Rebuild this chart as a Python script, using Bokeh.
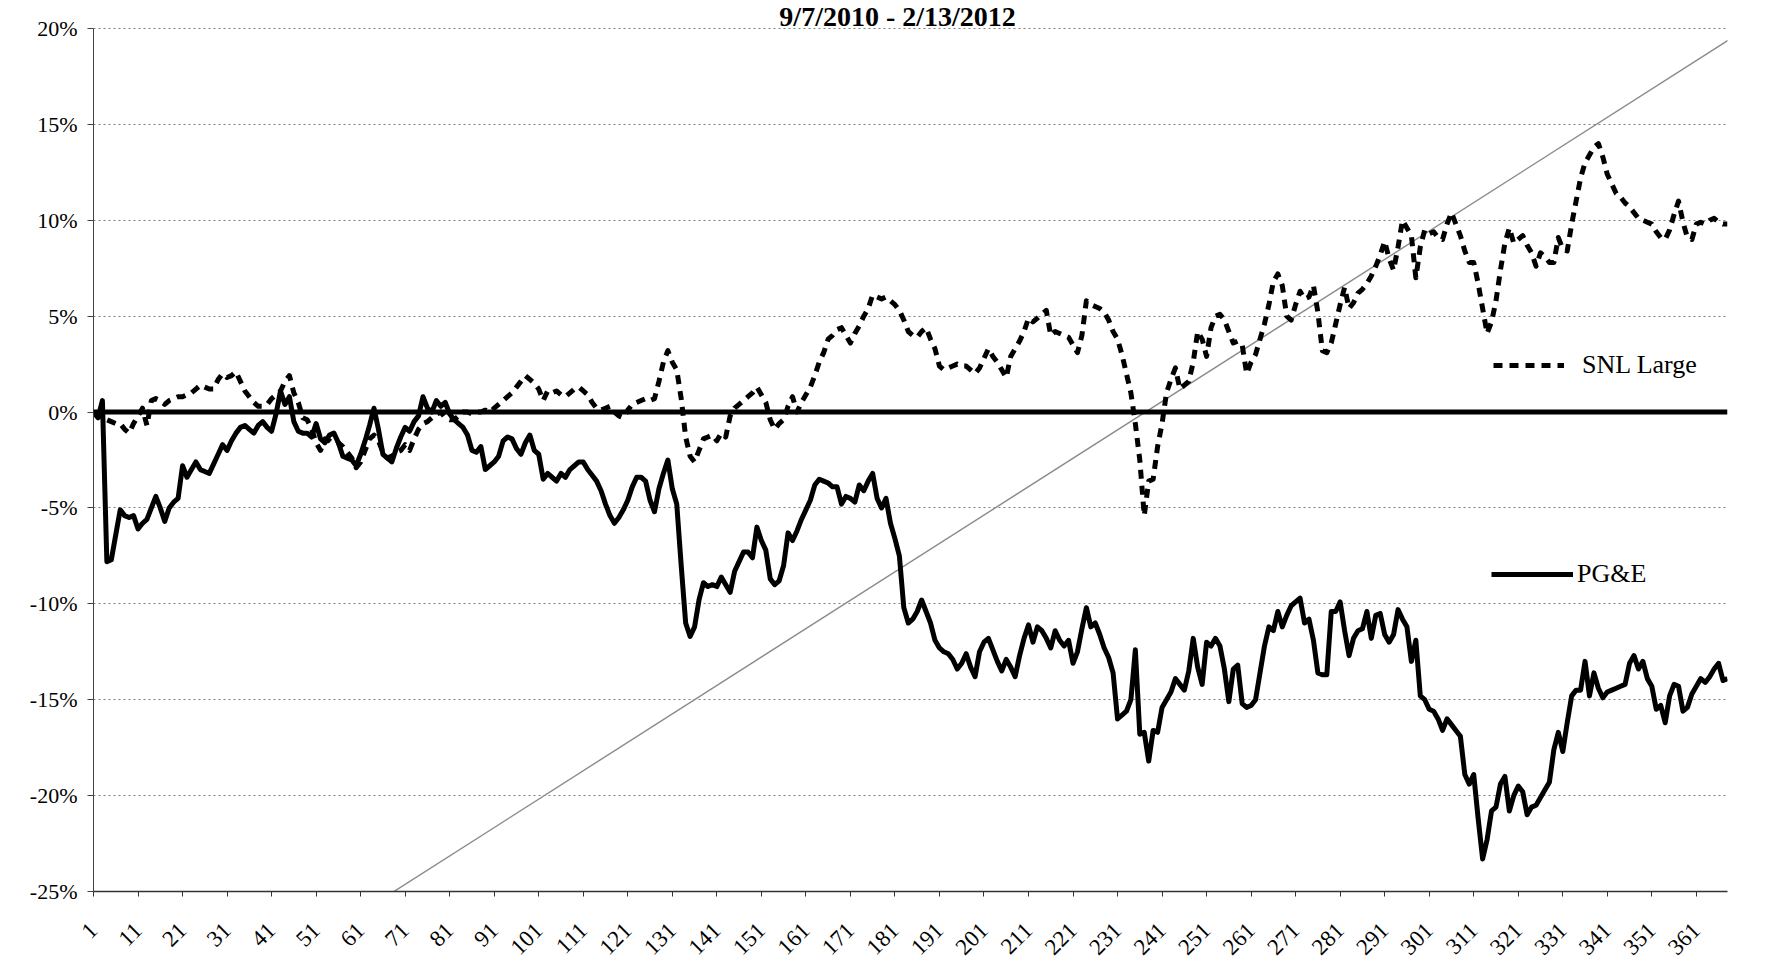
import math
from bokeh.plotting import figure
from bokeh.models import (Range1d, FixedTicker, PrintfTickFormatter, Span,
                          Legend, LegendItem, Label)
from bokeh.embed import file_html
from bokeh.resources import INLINE

# ---------------- data ----------------
title_text = "9/7/2010 - 2/13/2012"
series_names = ["SNL Large", "PG&E"]

day = list(range(1, 369))

pge = [
    0.0, -0.3, 0.6, -7.8, -7.7, -6.4, -5.1, -5.4, -5.5, -5.4,
    -6.1, -5.8, -5.6, -5.0, -4.4, -5.0, -5.7, -5.0, -4.7, -4.5,
    -2.8, -3.4, -3.0, -2.6, -3.0, -3.1, -3.2, -2.7, -2.2, -1.7,
    -2.0, -1.5, -1.1, -0.8, -0.7, -0.9, -1.1, -0.7, -0.5, -0.8,
    -1.0, -0.1, 1.1, 0.4, 0.8, -0.5, -1.0, -1.1, -1.1, -1.3,
    -0.6, -1.4, -1.6, -1.2, -1.1, -1.6, -2.3, -2.4, -2.5, -2.8,
    -2.2, -1.5, -0.7, 0.2, -0.9, -2.2, -2.4, -2.6, -1.9, -1.3,
    -0.8, -1.0, -0.5, -0.2, 0.8, 0.2, 0.0, 0.6, 0.3, 0.5,
    -0.1, -0.4, -0.6, -0.8, -1.2, -2.0, -2.1, -1.8, -3.0, -2.8,
    -2.6, -2.3, -1.5, -1.3, -1.4, -1.9, -2.2, -1.6, -1.2, -2.0,
    -2.2, -3.5, -3.2, -3.4, -3.6, -3.2, -3.4, -3.0, -2.8, -2.6,
    -2.6, -3.0, -3.3, -3.6, -4.1, -4.8, -5.4, -5.8, -5.5, -5.1,
    -4.6, -3.9, -3.4, -3.4, -3.6, -4.6, -5.2, -4.0, -3.2, -2.5,
    -4.0, -4.8, -8.0, -11.0, -11.7, -11.2, -9.8, -8.9, -9.1, -9.0,
    -9.1, -8.6, -9.0, -9.4, -8.3, -7.8, -7.3, -7.3, -7.6, -6.0,
    -6.7, -7.2, -8.7, -9.0, -8.8, -8.0, -6.3, -6.7, -6.2, -5.6,
    -5.1, -4.6, -3.8, -3.5, -3.6, -3.7, -3.9, -3.9, -4.8, -4.4,
    -4.5, -4.7, -3.8, -4.1, -3.6, -3.2, -4.5, -5.0, -4.5, -5.8,
    -6.6, -7.5, -10.2, -11.0, -10.8, -10.4, -9.8, -10.4, -11.0, -11.9,
    -12.3, -12.5, -12.6, -12.9, -13.4, -13.1, -12.6, -13.3, -13.8, -12.5,
    -12.0, -11.8, -12.4, -13.0, -13.5, -12.9, -13.3, -13.8, -12.7, -11.8,
    -11.1, -12.0, -11.2, -11.4, -11.8, -12.3, -11.4, -11.9, -12.2, -11.9,
    -13.1, -12.5, -11.3, -10.2, -11.2, -11.0, -11.6, -12.3, -12.8, -13.6,
    -16.0, -15.8, -15.6, -15.0, -12.4, -16.8, -16.7, -18.2, -16.6, -16.7,
    -15.4, -15.0, -14.6, -13.9, -14.2, -14.5, -13.5, -11.8, -13.3, -14.2,
    -12.0, -12.2, -11.8, -12.2, -13.4, -15.1, -13.4, -13.2, -15.2, -15.4,
    -15.3, -15.0, -13.6, -12.2, -11.2, -11.4, -10.4, -11.2, -10.6, -10.1,
    -9.9, -9.7, -11.0, -10.8, -11.9, -13.6, -13.7, -13.7, -10.4, -10.4,
    -9.9, -11.4, -12.7, -11.8, -11.4, -11.3, -10.4, -11.8, -10.6, -10.5,
    -11.6, -12.0, -11.6, -10.3, -10.8, -11.2, -13.0, -11.9, -14.8, -15.0,
    -15.5, -15.6, -16.0, -16.6, -16.0, -16.3, -16.6, -16.9, -18.9, -19.4,
    -18.9, -21.2, -23.3, -22.3, -20.8, -20.6, -19.4, -19.0, -20.8, -20.0,
    -19.5, -19.8, -21.0, -20.6, -20.5, -20.1, -19.7, -19.3, -17.6, -16.7,
    -17.7, -16.2, -14.8, -14.5, -14.5, -13.0, -14.8, -13.6, -14.4, -14.9,
    -14.6, -14.5, -14.4, -14.3, -14.2, -13.1, -12.7, -13.4, -13.0, -13.9,
    -14.3, -15.5, -15.3, -16.2, -14.8, -14.2, -14.3, -15.6, -15.4, -14.7,
    -14.3, -13.9, -14.1, -13.8, -13.4, -13.1, -14.0, -13.9,
]

snl = [
    0.0, -0.2, -0.3, -0.4, -0.5, -0.6, -0.6, -0.9, -1.1, -0.6,
    -0.2, 0.2, -0.7, 0.6, 0.7, 0.6, 0.4, 0.6, 0.7, 0.8,
    0.8, 0.9, 1.0, 1.2, 1.4, 1.3, 1.2, 1.2, 1.7, 2.0,
    1.8, 1.9, 2.1, 1.6, 1.1, 0.8, 0.5, 0.3, 0.3, 0.4,
    0.7, 0.9, 1.1, 1.6, 1.9, 1.0, 0.5, -0.3, -0.4, -0.9,
    -1.6, -2.0, -1.4, -1.5, -1.7, -1.6, -1.8, -2.1, -2.4, -2.9,
    -2.6, -2.0, -1.4, -1.2, -1.5, -2.1, -2.4, -2.3, -2.1, -2.0,
    -1.7, -2.0, -1.4, -0.9, -0.6, -0.5, -0.3, -0.1, 0.0, -0.3,
    -0.4, -0.4, -0.2, 0.0, 0.0, -0.1, 0.0, 0.0, 0.1, 0.0,
    0.2, 0.4, 0.6, 0.8, 1.0, 1.3, 1.6, 1.9, 1.7, 1.5,
    1.2, 0.6, 1.1, 1.0, 1.1, 0.9, 0.8, 1.0, 1.2, 1.3,
    1.1, 0.9, 0.5, 0.2, 0.1, 0.2, 0.3, 0.0, -0.2, -0.3,
    0.1, 0.4, 0.5, 0.6, 0.7, 0.6, 0.7, 1.6, 2.6, 3.2,
    2.6, 2.2, 0.7, -1.3, -2.3, -2.6, -2.0, -1.4, -1.3, -1.2,
    -1.5, -1.1, -1.3, -0.2, 0.2, 0.4, 0.6, 0.8, 1.0, 1.3,
    0.9, 0.5, -0.4, -0.9, -0.6, -0.4, 0.3, 0.8, 0.0, 0.5,
    0.9, 1.3, 1.9, 2.6, 3.1, 3.8, 4.0, 4.3, 4.4, 4.0,
    3.6, 4.1, 4.5, 5.0, 5.4, 6.1, 6.0, 5.9, 6.0, 5.8,
    5.6, 5.3, 4.8, 4.2, 4.0, 3.9, 4.2, 4.4, 3.8, 3.3,
    2.4, 2.2, 2.3, 2.4, 2.5, 2.4, 2.4, 2.2, 2.0, 2.3,
    2.8, 3.3, 2.9, 2.6, 2.2, 1.8, 2.9, 3.3, 3.7, 4.2,
    4.9, 4.7, 4.9, 5.1, 5.3, 4.0, 4.2, 4.1, 4.0, 3.9,
    3.5, 3.1, 4.0, 5.8, 5.6, 5.5, 5.4, 5.2, 4.8, 4.2,
    3.8, 3.0, 2.0, 1.0, -0.6, -2.5, -5.4, -3.6, -3.5, -1.8,
    -0.6, 1.0, 1.7, 2.3, 1.2, 1.4, 1.6, 2.6, 4.2, 3.8,
    2.9, 4.4, 5.0, 5.1, 4.8, 4.2, 3.6, 3.7, 3.5, 2.0,
    2.6, 3.0, 3.8, 4.6, 5.6, 6.8, 7.2, 6.6, 5.0, 4.8,
    5.6, 6.3, 5.9, 6.0, 6.6, 5.2, 3.2, 3.1, 3.6, 4.6,
    5.6, 6.5, 5.4, 5.7, 6.2, 6.4, 6.7, 7.1, 7.6, 8.2,
    8.9, 8.0, 7.4, 8.6, 10.0, 9.6, 9.2, 7.0, 8.6, 9.5,
    9.3, 9.4, 9.1, 9.0, 9.8, 10.4, 9.8, 9.2, 8.4, 7.8,
    7.8, 6.7, 5.4, 4.1, 4.7, 5.8, 7.4, 8.8, 9.6, 8.8,
    9.0, 9.2, 8.7, 8.3, 7.6, 8.3, 8.1, 7.8, 7.8, 9.1,
    8.5, 8.4, 9.8, 11.0, 12.2, 13.0, 13.4, 13.8, 14.0, 13.3,
    12.4, 11.9, 11.4, 11.2, 10.9, 10.7, 10.4, 10.1, 10.0, 9.9,
    9.8, 9.4, 9.1, 9.0, 9.5, 10.3, 11.0, 9.9, 9.1, 9.0,
    9.8, 9.9, 9.8, 10.0, 10.1, 9.9, 9.8, 9.8,
]

x_tick_days = list(range(1, 362, 10))
y_tick_pcts = [-25, -20, -15, -10, -5, 0, 5, 10, 15, 20]

# stray diagonal stroke visible across the scanned original
artifact_day = [30.0, 375.0]
artifact_pct = [-30.7, 20.4]

# ---------------- figure ----------------
FONT = "Liberation Serif"
TOP_PAD = 1.46   # headroom above the 20% line, where the heading sits

p = figure(width=1770, height=975, output_backend="svg", toolbar_location=None,
           x_range=Range1d(day[0], day[-1]),
           y_range=Range1d(y_tick_pcts[0], y_tick_pcts[-1] + TOP_PAD),
           min_border_left=93, min_border_right=43,
           min_border_top=0, min_border_bottom=84)
p.outline_line_color = None
p.background_fill_color = "white"
p.border_fill_color = "white"

p.xgrid.visible = False
p.ygrid.ticker = FixedTicker(ticks=y_tick_pcts)
p.ygrid.grid_line_color = "#808080"
p.ygrid.grid_line_dash = "2 3"
p.ygrid.grid_line_width = 1

p.yaxis.ticker = FixedTicker(ticks=y_tick_pcts)
p.yaxis.bounds = (y_tick_pcts[0], y_tick_pcts[-1])
p.yaxis.formatter = PrintfTickFormatter(format="%d%%")
p.yaxis.axis_line_color = "#444444"
p.yaxis.axis_line_width = 1
p.yaxis.major_tick_out = 6
p.yaxis.major_tick_in = 0
p.yaxis.minor_tick_line_color = None
p.yaxis.major_tick_line_color = "#444444"
p.yaxis.major_label_text_font = FONT
p.yaxis.major_label_text_font_size = "22px"
p.yaxis.major_label_text_color = "black"
p.yaxis.major_label_standoff = 10

p.xaxis.ticker = FixedTicker(ticks=x_tick_days)
p.xaxis.axis_line_color = "#333333"
p.xaxis.axis_line_width = 1.5
p.xaxis.major_tick_out = 5
p.xaxis.major_tick_in = 0
p.xaxis.minor_tick_line_color = None
p.xaxis.major_tick_line_color = "#333333"
p.xaxis.major_label_orientation = math.pi / 4
p.xaxis.major_label_text_font = FONT
p.xaxis.major_label_text_font_size = "23px"
p.xaxis.major_label_text_color = "black"
p.xaxis.major_label_standoff = 30

# diagonal scan stroke
p.line(artifact_day, artifact_pct, line_color="#8a8a8a", line_width=1.4)

# zero reference line
p.add_layout(Span(location=0, dimension="width", line_color="black", line_width=5))

r_snl = p.line(day, snl, line_color="black", line_width=5, line_dash="9 7",
               line_join="round")
r_pge = p.line(day, pge, line_color="black", line_width=5, line_join="round")

def make_legend(name, rend, loc, gw, standoff):
    return Legend(items=[LegendItem(label=name, renderers=[rend])], location=loc,
                  glyph_width=gw, glyph_height=28, label_height=28,
                  label_standoff=standoff, padding=0, margin=0, spacing=0,
                  border_line_alpha=0, background_fill_alpha=0,
                  label_text_font=FONT, label_text_font_size="26px",
                  label_text_color="black")

p.add_layout(make_legend(series_names[0], r_snl, (1400, 511), 71, 18))
p.add_layout(make_legend(series_names[1], r_pge, (1398, 302), 82, 4))

p.add_layout(Label(x=181.6, y=y_tick_pcts[-1], text=title_text, text_font=FONT,
                   text_font_size="28px", text_font_style="bold",
                   text_align="center", text_baseline="bottom",
                   y_offset=-4, text_color="black"))

open("out.html", "w").write(file_html(p, INLINE))
